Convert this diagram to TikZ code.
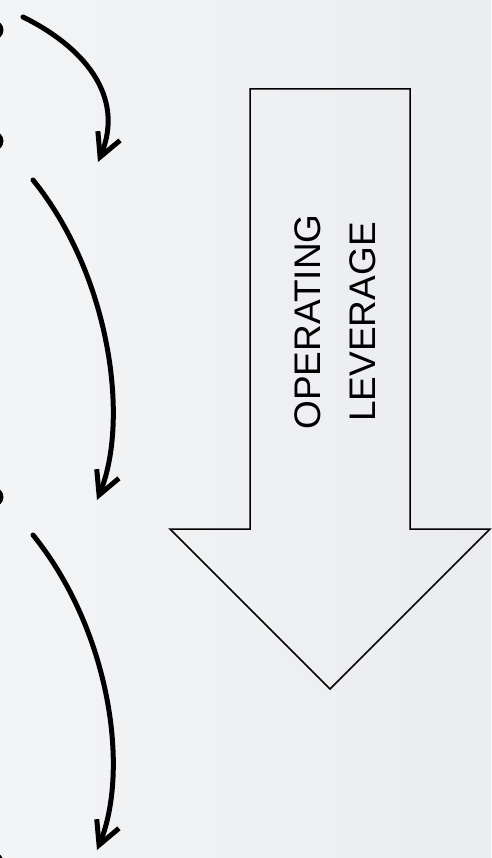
\documentclass[tikz,border=0pt]{standalone}
\usepackage{fontspec}
\setmainfont{Liberation Sans}
\usetikzlibrary{arrows.meta}
\definecolor{bgleft}{RGB}{243,244,246}
\definecolor{bgright}{RGB}{234,236,239}

\begin{document}
\begin{tikzpicture}[x=1pt, y=-1pt]
    \tikzset{
        curvy/.style={line width=5pt, line cap=round, -{Straight Barb[length=23pt, width=24pt]}},
        bigarrow/.style={draw, line width=1.5pt, line join=miter},
        dot/.style={fill=black},
    }
    \shade[left color=bgleft, right color=bgright] (0,0) rectangle (491,858);
    \useasboundingbox (0,0) rectangle (491,858);
    \coordinate (A) at (250,89);
    \coordinate (B) at (410,89);
    \coordinate (C) at (410,529);
    \coordinate (D) at (490,529);
    \coordinate (E) at (330,689);
    \coordinate (F) at (170,529);
    \coordinate (G) at (250,529);
    \draw[bigarrow] (A) -- (B) -- (C) -- (D) -- (E) -- (F) -- (G) -- cycle;
    \node[rotate=90, align=center, inner sep=0pt, font=\fontsize{37}{55}\selectfont] (lever) at (335,322) {OPERATING\\LEVERAGE};
    \coordinate (s1) at (23,17);
    \coordinate (e1) at (98,162);
    \coordinate (s2) at (33,180);
    \coordinate (e2) at (97,500);
    \coordinate (s3) at (33,535);
    \coordinate (e3) at (97,850);
    \draw[curvy] (s1) .. controls (82,46) and (126,95) .. (e1);
    \draw[curvy] (s2) .. controls (110,275) and (130,420) .. (e2);
    \draw[curvy] (s3) .. controls (110,630) and (130,770) .. (e3);
    \fill[dot] (-6,30) circle (9.5);
    \fill[dot] (-6,141) circle (9.5);
    \fill[dot] (-6,497) circle (9.5);
    \fill[dot] (-6,862) circle (9.5);
\end{tikzpicture}
\end{document}
